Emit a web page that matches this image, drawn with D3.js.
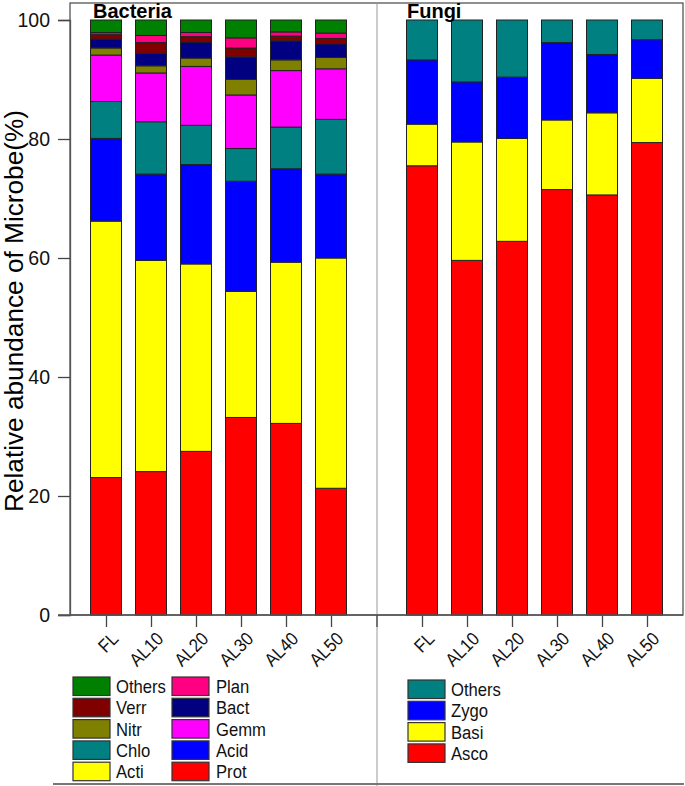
<!DOCTYPE html>
<html><head><meta charset="utf-8">
<script src="https://cdn.jsdelivr.net/npm/d3@7"></script>
<style>
html,body{margin:0;padding:0;background:#fff;}
svg{display:block;font-family:"Liberation Sans",Arial,sans-serif;}
</style></head>
<body>
<svg id="chart" width="685" height="786"></svg>
<script>
// ---- data ----
const categories = ["FL","AL10","AL20","AL30","AL40","AL50"];
const yTicks = [0,20,40,60,80,100];

// bacteria phyla (stack order bottom -> top)
const bacteriaKeys = ["Prot","Acti","Acid","Chlo","Gemm","Nitr","Bact","Verr","Plan","Others"];
const bacProt   = [23.1,24.1,27.5,33.2,32.2,21.3];
const bacActi   = [43.1,35.5,31.5,21.2,27.1,38.7];
const bacAcid   = [13.9,14.5,16.7,18.5,15.7,14.1];
const bacChlo   = [6.2,8.8,6.6,5.5,7.0,9.2];
const bacGemm   = [7.8,8.2,9.9,9.0,9.5,8.5];
const bacNitr   = [1.2,1.2,1.4,2.6,1.8,1.9];
const bacBact   = [1.5,2.1,2.7,3.8,3.2,2.3];
const bacVerr   = [0.8,1.8,0.9,1.5,0.8,0.9];
const bacPlan   = [0.3,1.2,0.7,1.7,0.7,0.9];
const bacOthers = [2.1,2.6,2.1,3.0,2.0,2.2];

// fungi phyla (stack order bottom -> top)
const fungiKeys = ["Asco","Basi","Zygo","Others"];
const funAsco   = [75.5,59.6,62.8,71.5,70.6,79.4];
const funBasi   = [7.0,19.9,17.3,11.7,13.8,10.8];
const funZygo   = [10.8,10.1,10.3,13.0,9.8,6.5];
const funOthers = [6.7,10.4,9.6,3.8,5.8,3.3];

const bacColors = {Others:"#008000",Verr:"#800000",Nitr:"#808000",Chlo:"#008080",Acti:"#ffff00",
                   Plan:"#ff0080",Bact:"#000080",Gemm:"#ff00ff",Acid:"#0000ff",Prot:"#ff0000"};
const funColors = {Others:"#008080",Zygo:"#0000ff",Basi:"#ffff00",Asco:"#ff0000"};

const bacLegendCol1 = ["Others","Verr","Nitr","Chlo","Acti"];
const bacLegendCol2 = ["Plan","Bact","Gemm","Acid","Prot"];
const funLegend = ["Others","Zygo","Basi","Asco"];

// ---- build tables ----
const bacSeries = {Prot:bacProt,Acti:bacActi,Acid:bacAcid,Chlo:bacChlo,Gemm:bacGemm,Nitr:bacNitr,Bact:bacBact,Verr:bacVerr,Plan:bacPlan,Others:bacOthers};
const funSeries = {Asco:funAsco,Basi:funBasi,Zygo:funZygo,Others:funOthers};
const bacRows = categories.map((c,i)=>{const r={cat:c}; bacteriaKeys.forEach(k=>r[k]=bacSeries[k][i]); return r;});
const funRows = categories.map((c,i)=>{const r={cat:c}; fungiKeys.forEach(k=>r[k]=funSeries[k][i]); return r;});

const svg = d3.select("#chart");
const y = d3.scaleLinear().domain([0,100]).range([615,20]);
const xB = d3.scalePoint().domain(categories).range([106,331]);
const xF = d3.scalePoint().domain(categories).range([422,647]);
const barW = 31;

// frame
svg.append("rect").attr("x",70).attr("y",3).attr("width",613).attr("height",612)
  .attr("fill","none").attr("stroke","#555").attr("stroke-width",1.3);
// divider
svg.append("line").attr("x1",377).attr("x2",377).attr("y1",3).attr("y2",786)
  .attr("stroke","#999").attr("stroke-width",1);
// bottom line
svg.append("line").attr("x1",53).attr("x2",684).attr("y1",784).attr("y2",784)
  .attr("stroke","#777").attr("stroke-width",2);

function drawStack(rows, keys, colors, x){
  const stacked = d3.stack().keys(keys)(rows);
  const g = svg.append("g");
  stacked.forEach(s=>{
    g.selectAll(null).data(s).enter().append("rect")
      .attr("x",d=>x(d.data.cat)-barW/2)
      .attr("width",barW)
      .attr("y",d=>y(d[1]))
      .attr("height",d=>y(d[0])-y(d[1]))
      .attr("fill",colors[s.key])
      .attr("stroke","#222").attr("stroke-width",1);
  });
}
drawStack(bacRows, bacteriaKeys, bacColors, xB);
drawStack(funRows, fungiKeys, funColors, xF);

// y axis
const yAx = svg.append("g").attr("transform","translate(70,0)")
  .call(d3.axisLeft(y).tickValues(yTicks).tickSize(12).tickPadding(8));
yAx.select(".domain").attr("stroke","#555").attr("stroke-width",1.3);
yAx.selectAll(".tick line").attr("stroke","#444").attr("stroke-width",1.3);
yAx.selectAll("text").attr("font-size",19.5).attr("fill","#111").attr("font-family","Liberation Sans, Arial, sans-serif");

// x axes
function xAxis(x){
  const g = svg.append("g").attr("transform","translate(0,615)")
    .call(d3.axisBottom(x).tickSize(12).tickFormat(""));
  g.select(".domain").remove();
  g.selectAll(".tick line").attr("stroke","#444").attr("stroke-width",1.3);
  g.selectAll(".tick").append("text")
    .attr("transform","translate(13,25) rotate(-45) scale(0.9,1)")
    .attr("text-anchor","end").attr("fill","#111")
    .attr("font-size",18.5)
    .text(d=>d);
}
xAxis(xB); xAxis(xF);
svg.append("line").attr("x1",58).attr("x2",683).attr("y1",615).attr("y2",615)
  .attr("stroke","#555").attr("stroke-width",1.3);
svg.append("line").attr("x1",377).attr("x2",377).attr("y1",615).attr("y2",627)
  .attr("stroke","#444").attr("stroke-width",1.3);

// titles
svg.append("text").attr("x",93).attr("y",18).attr("font-size",20).attr("font-weight","bold").text("Bacteria");
svg.append("text").attr("x",407).attr("y",18).attr("font-size",20).attr("font-weight","bold").text("Fungi");

// y label
svg.append("text").attr("transform","translate(23,311) rotate(-90)")
  .attr("text-anchor","middle").attr("font-size",26)
  .attr("textLength",402).attr("lengthAdjust","spacingAndGlyphs")
  .text("Relative abundance of Microbe(%)");

// legends
function legend(items, sx, tx, y0, colors){
  const g = svg.append("g");
  items.forEach((k,i)=>{
    const yy = y0 + i*21.3;
    g.append("rect").attr("x",sx).attr("y",yy).attr("width",37).attr("height",18.5)
      .attr("fill",colors[k]).attr("stroke","#333").attr("stroke-width",1.2);
    g.append("text").attr("transform",`translate(${tx},${yy+16}) scale(0.9,1)`)
      .attr("font-size",18.5).attr("fill","#111").text(k);
  });
}
legend(bacLegendCol1, 73, 116, 677, bacColors);
legend(bacLegendCol2, 172, 216, 677, bacColors);
legend(funLegend, 408, 451, 680, funColors);
</script>
</body></html>
